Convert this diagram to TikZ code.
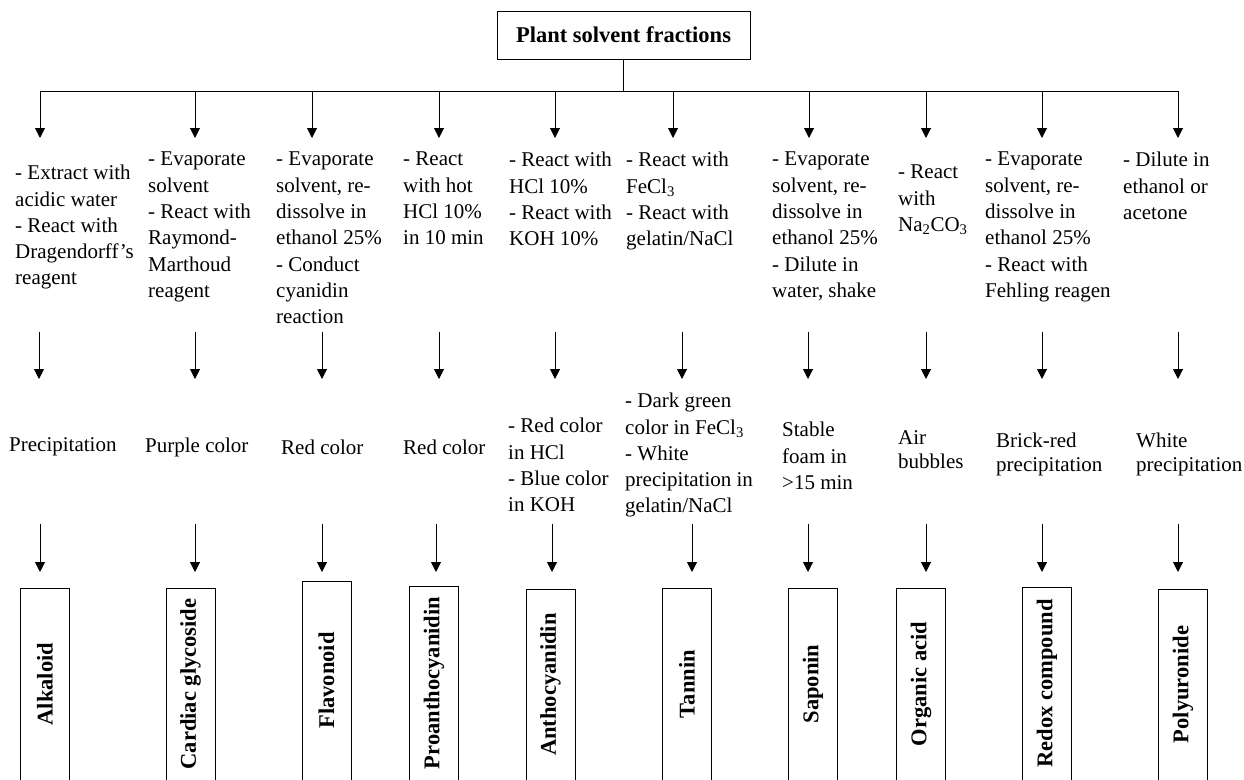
\documentclass[tikz,border=0pt]{standalone}
\usepackage{fontspec}
\setmainfont{Liberation Serif}
\usetikzlibrary{arrows.meta}

\begin{document}
\begin{tikzpicture}[x=1pt, y=-1pt,
    fracbox/.style={draw, line width=1pt, minimum width=253pt, minimum height=48pt,
      inner sep=0pt, font=\fontsize{22.5}{27}\selectfont\bfseries},
    testtext/.style={anchor=north west, inner sep=0pt, align=left,
      font=\fontsize{21}{26.3}\selectfont},
    tighttext/.style={testtext, font=\fontsize{21}{24}\selectfont},
    classbox/.style={draw, line width=1pt, rotate=90, minimum height=49pt,
      inner sep=0pt, font=\fontsize{22.5}{27}\selectfont\bfseries},
    arrow/.style={-{Triangle[length=10pt, width=10pt]}, line width=1pt},
  ]
    \useasboundingbox (0,0) rectangle (1244,779);

    % top box and bus line
    \node[fracbox] (frac) at (623.5,35) {Plant solvent fractions};
    \coordinate (busL) at (40,91);
    \coordinate (busR) at (1178,91);
    \draw[line width=1pt] (frac.south) -- (frac.south |- busL);
    \draw[line width=1pt] (busL) -- (busR);

    % procedures
    \node[testtext] (p1) at (15,165) {- Extract with\\acidic water\\- React with\\Dragendorff's\\reagent};
    \node[testtext] (p2) at (148,152) {- Evaporate\\solvent\\- React with\\Raymond-\\Marthoud\\reagent};
    \node[testtext] (p3) at (276,152) {- Evaporate\\solvent, re-\\dissolve in\\ethanol 25\%\\- Conduct\\cyanidin\\reaction};
    \node[testtext] (p4) at (403,152) {- React\\with hot\\HCl 10\%\\in 10 min};
    \node[testtext] (p5) at (509,152) {- React with\\HCl 10\%\\- React with\\KOH 10\%};
    \node[testtext] (p6) at (626,152) {- React with\\FeCl\textsubscript{3}\\- React with\\gelatin/NaCl};
    \node[testtext] (p7) at (772,152) {- Evaporate\\solvent, re-\\dissolve in\\ethanol 25\%\\- Dilute in\\water, shake};
    \node[testtext] (p8) at (898,165) {- React\\with\\Na\textsubscript{2}CO\textsubscript{3}};
    \node[testtext] (p9) at (985,152) {- Evaporate\\solvent, re-\\dissolve in\\ethanol 25\%\\- React with\\Fehling reagen};
    \node[testtext] (p10) at (1123,152) {- Dilute in\\ethanol or\\acetone};

    % results
    \node[testtext] (r1) at (9,437) {Precipitation};
    \node[testtext] (r2) at (145,438) {Purple color};
    \node[testtext] (r3) at (281,440) {Red color};
    \node[testtext] (r4) at (403,440) {Red color};
    \node[testtext] (r5) at (508,418) {- Red color\\in HCl\\- Blue color\\in KOH};
    \node[testtext] (r6) at (625,393) {- Dark green\\color in FeCl\textsubscript{3}\\- White\\precipitation in\\gelatin/NaCl};
    \node[testtext] (r7) at (782,422) {Stable\\foam in\\>15 min};
    \node[tighttext] (r8) at (898,430) {Air\\bubbles};
    \node[tighttext] (r9) at (996,433) {Brick-red\\precipitation};
    \node[tighttext] (r10) at (1136,433) {White\\precipitation};

    % compound classes
    \node[classbox, minimum width=192pt] (c1) at (45,684) {Alkaloid};
    \node[classbox, minimum width=192pt] (c2) at (190.5,684) {Cardiac glycoside};
    \node[classbox, minimum width=199pt] (c3) at (326.5,680.5) {Flavonoid};
    \node[classbox, minimum width=194pt] (c4) at (434,683) {Proanthocyanidin};
    \node[classbox, minimum width=191pt] (c5) at (550.5,684.5) {Anthocyanidin};
    \node[classbox, minimum width=192pt] (c6) at (687,684) {Tannin};
    \node[classbox, minimum width=192pt] (c7) at (813,684) {Saponin};
    \node[classbox, minimum width=192pt] (c8) at (921,684) {Organic acid};
    \node[classbox, minimum width=193pt] (c9) at (1047,683.5) {Redox compound};
    \node[classbox, minimum width=191pt] (c10) at (1183,684.5) {Polyuronide};

    % arrow starts
    \coordinate (a1) at (40,91);    \coordinate (b1) at (39,332);   \coordinate (d1) at (40,524);
    \coordinate (a2) at (195,91);   \coordinate (b2) at (195,332);  \coordinate (d2) at (195,524);
    \coordinate (a3) at (312,91);   \coordinate (b3) at (322,332);  \coordinate (d3) at (322,524);
    \coordinate (a4) at (439,91);   \coordinate (b4) at (439,332);  \coordinate (d4) at (436,524);
    \coordinate (a5) at (555,91);   \coordinate (b5) at (555,332);  \coordinate (d5) at (552,524);
    \coordinate (a6) at (673,91);   \coordinate (b6) at (682,332);  \coordinate (d6) at (692,524);
    \coordinate (a7) at (809,91);   \coordinate (b7) at (808,332);  \coordinate (d7) at (808,524);
    \coordinate (a8) at (926,91);   \coordinate (b8) at (926,332);  \coordinate (d8) at (926,524);
    \coordinate (a9) at (1042,91);  \coordinate (b9) at (1042,332); \coordinate (d9) at (1042,524);
    \coordinate (a10) at (1178,91); \coordinate (b10) at (1178,332); \coordinate (d10) at (1178,524);

    \draw[arrow] (a1) -- ++(0,47);  \draw[arrow] (b1) -- ++(0,47);  \draw[arrow] (d1) -- ++(0,48);
    \draw[arrow] (a2) -- ++(0,47);  \draw[arrow] (b2) -- ++(0,47);  \draw[arrow] (d2) -- ++(0,48);
    \draw[arrow] (a3) -- ++(0,47);  \draw[arrow] (b3) -- ++(0,47);  \draw[arrow] (d3) -- ++(0,48);
    \draw[arrow] (a4) -- ++(0,47);  \draw[arrow] (b4) -- ++(0,47);  \draw[arrow] (d4) -- ++(0,48);
    \draw[arrow] (a5) -- ++(0,47);  \draw[arrow] (b5) -- ++(0,47);  \draw[arrow] (d5) -- ++(0,48);
    \draw[arrow] (a6) -- ++(0,47);  \draw[arrow] (b6) -- ++(0,47);  \draw[arrow] (d6) -- ++(0,48);
    \draw[arrow] (a7) -- ++(0,47);  \draw[arrow] (b7) -- ++(0,47);  \draw[arrow] (d7) -- ++(0,48);
    \draw[arrow] (a8) -- ++(0,47);  \draw[arrow] (b8) -- ++(0,47);  \draw[arrow] (d8) -- ++(0,48);
    \draw[arrow] (a9) -- ++(0,47);  \draw[arrow] (b9) -- ++(0,47);  \draw[arrow] (d9) -- ++(0,48);
    \draw[arrow] (a10) -- ++(0,47); \draw[arrow] (b10) -- ++(0,47); \draw[arrow] (d10) -- ++(0,48);
  \end{tikzpicture}
\end{document}
